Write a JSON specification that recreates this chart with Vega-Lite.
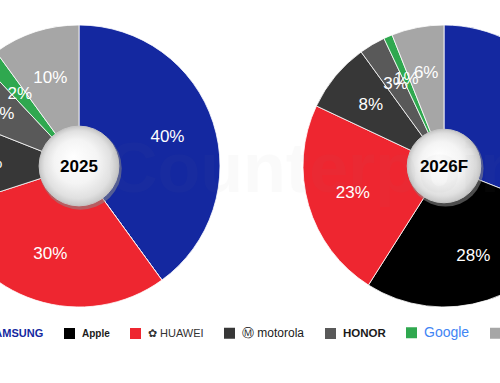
{
  "$schema": "https://vega.github.io/schema/vega-lite/v6.json",
  "autosize": "none",
  "width": 500,
  "height": 332,
  "padding": {"left": 0, "top": 0, "right": 0, "bottom": 51},
  "background": "#ffffff",
  "config": {"view": {"stroke": null}, "font": "Liberation Sans"},
  "datasets": {
    "shares": [
      {"year": "2025", "brand": "Samsung", "rank": 1, "share": 0.40},
      {"year": "2025", "brand": "Apple", "rank": 2, "share": 0.00},
      {"year": "2025", "brand": "Huawei", "rank": 3, "share": 0.30},
      {"year": "2025", "brand": "Motorola", "rank": 4, "share": 0.11},
      {"year": "2025", "brand": "Honor", "rank": 5, "share": 0.07},
      {"year": "2025", "brand": "Google", "rank": 6, "share": 0.02},
      {"year": "2025", "brand": "Others", "rank": 7, "share": 0.10},
      {"year": "2026F", "brand": "Samsung", "rank": 1, "share": 0.31},
      {"year": "2026F", "brand": "Apple", "rank": 2, "share": 0.28},
      {"year": "2026F", "brand": "Huawei", "rank": 3, "share": 0.23},
      {"year": "2026F", "brand": "Motorola", "rank": 4, "share": 0.08},
      {"year": "2026F", "brand": "Honor", "rank": 5, "share": 0.03},
      {"year": "2026F", "brand": "Google", "rank": 6, "share": 0.01},
      {"year": "2026F", "brand": "Others", "rank": 7, "share": 0.06}
    ],
    "years": [{"year": "2025"}, {"year": "2026F"}],
    "mark": [{"label": "Counterpoint"}]
  },
  "data": {"name": "shares"},
  "layer": [
    {
      "transform": [{"filter": "datum.year == '2025'"}],
      "mark": {"type": "arc", "outerRadius": 141, "stroke": "#ffffff", "strokeWidth": 0.8},
      "encoding": {
        "x": {"field": "year", "type": "nominal", "scale": {"domain": ["2025", "2026F"], "range": [79, 444], "padding": 0}, "axis": null},
        "theta": {"field": "share", "type": "quantitative", "stack": true, "scale": {"domain": [0, 1]}},
        "order": {"field": "rank", "type": "quantitative"},
        "color": {
          "field": "brand", "type": "nominal",
          "scale": {
            "domain": ["Samsung", "Apple", "Huawei", "Motorola", "Honor", "Google", "Others"],
            "range": ["#1428a0", "#000000", "#ee2630", "#373737", "#595959", "#2fa84f", "#a6a6a6"]
          },
          "legend": {
            "title": null, "orient": "none", "legendX": -31, "legendY": 327, "direction": "horizontal",
            "symbolType": "square", "symbolSize": 121, "symbolStrokeWidth": 0, "symbolOpacity": 1,
            "labelOffset": 7, "columnPadding": 20, "padding": 0,
            "labelFont": "Liberation Sans", "labelBaseline": "middle",
            "labelExpr": "datum.value == 'Samsung' ? 'SAMSUNG' : datum.value == 'Huawei' ? '✿ HUAWEI' : datum.value == 'Motorola' ? 'Ⓜ motorola' : datum.value == 'Honor' ? 'HONOR' : datum.value",
            "labelColor": {"expr": "datum.value == 'Samsung' ? '#1428a0' : datum.value == 'Google' ? '#4285f4' : datum.value == 'Huawei' ? '#333333' : '#1a1a1a'"},
            "labelFontSize": {"expr": "datum.value == 'Google' ? 14 : datum.value == 'Motorola' ? 12 : datum.value == 'Honor' ? 11.5 : datum.value == 'Huawei' ? 11 : datum.value == 'Apple' ? 10 : datum.value == 'Others' ? 12 : 11"},
            "labelFontWeight": {"expr": "datum.value == 'Samsung' || datum.value == 'Apple' || datum.value == 'Honor' ? 'bold' : 'normal'"}
          }
        }
      }
    },
    {
      "transform": [{"filter": "datum.year == '2026F'"}],
      "mark": {"type": "arc", "outerRadius": 141, "stroke": "#ffffff", "strokeWidth": 0.8},
      "encoding": {
        "x": {"field": "year", "type": "nominal"},
        "theta": {"field": "share", "type": "quantitative", "stack": true},
        "order": {"field": "rank", "type": "quantitative"},
        "color": {"field": "brand", "type": "nominal"}
      }
    },
    {
      "transform": [{"filter": "datum.year == '2025' && datum.share > 0"}],
      "mark": {"type": "text", "radius": 93, "fontSize": 17, "color": "#ffffff", "font": "Liberation Sans"},
      "encoding": {
        "x": {"field": "year", "type": "nominal"},
        "theta": {"field": "share", "type": "quantitative", "stack": true},
        "order": {"field": "rank", "type": "quantitative"},
        "text": {"field": "share", "type": "quantitative", "format": ".0%"}
      }
    },
    {
      "transform": [{"filter": "datum.year == '2026F' && datum.share > 0"}],
      "mark": {"type": "text", "radius": 95, "fontSize": 17, "color": "#ffffff", "font": "Liberation Sans"},
      "encoding": {
        "x": {"field": "year", "type": "nominal"},
        "theta": {"field": "share", "type": "quantitative", "stack": true},
        "order": {"field": "rank", "type": "quantitative"},
        "text": {"field": "share", "type": "quantitative", "format": ".0%"}
      }
    },
    {
      "data": {"name": "years"},
      "transform": [{"filter": "datum.year == '2025'"}],
      "mark": {"type": "point", "shape": "circle", "filled": true, "opacity": 0.55, "color": "#8a8a8a", "size": 6800, "xOffset": 1.5, "yOffset": 2.5, "strokeWidth": 0},
      "encoding": {"x": {"field": "year", "type": "nominal"}}
    },
    {
      "data": {"name": "years"},
      "transform": [{"filter": "datum.year == '2026F'"}],
      "mark": {"type": "point", "shape": "circle", "filled": true, "opacity": 0.55, "color": "#8a8a8a", "size": 5800, "xOffset": 1.5, "yOffset": 2.5, "strokeWidth": 0},
      "encoding": {"x": {"field": "year", "type": "nominal"}}
    },
    {
      "data": {"name": "years"},
      "transform": [{"filter": "datum.year == '2025'"}],
      "mark": {
        "type": "point", "shape": "circle", "filled": true, "opacity": 1, "size": 6362, "stroke": "#c8c8c8", "strokeWidth": 1,
        "fill": {"gradient": "radial", "x1": 0.42, "y1": 0.38, "r1": 0, "x2": 0.5, "y2": 0.5, "r2": 0.5,
          "stops": [{"offset": 0, "color": "#ffffff"}, {"offset": 0.55, "color": "#f4f4f4"}, {"offset": 0.85, "color": "#e0e0e0"}, {"offset": 1, "color": "#c6c6c6"}]}
      },
      "encoding": {"x": {"field": "year", "type": "nominal"}}
    },
    {
      "data": {"name": "years"},
      "transform": [{"filter": "datum.year == '2026F'"}],
      "mark": {
        "type": "point", "shape": "circle", "filled": true, "opacity": 1, "size": 5411, "stroke": "#c8c8c8", "strokeWidth": 1,
        "fill": {"gradient": "radial", "x1": 0.42, "y1": 0.38, "r1": 0, "x2": 0.5, "y2": 0.5, "r2": 0.5,
          "stops": [{"offset": 0, "color": "#ffffff"}, {"offset": 0.55, "color": "#f4f4f4"}, {"offset": 0.85, "color": "#e0e0e0"}, {"offset": 1, "color": "#c6c6c6"}]}
      },
      "encoding": {"x": {"field": "year", "type": "nominal"}}
    },
    {
      "data": {"name": "years"},
      "mark": {"type": "text", "fontSize": 17, "fontWeight": "bold", "color": "#000000", "dy": 1, "font": "Liberation Sans"},
      "encoding": {
        "x": {"field": "year", "type": "nominal"},
        "text": {"field": "year", "type": "nominal"}
      }
    },
    {
      "data": {"name": "mark"},
      "mark": {"type": "text", "fontSize": 70, "fontWeight": "bold", "color": "#888888", "opacity": 0.035, "align": "left", "baseline": "alphabetic", "dx": 28, "dy": 26, "font": "Liberation Sans"},
      "encoding": {
        "x": {"datum": "2025", "type": "nominal"},
        "text": {"field": "label", "type": "nominal"}
      }
    }
  ]
}
